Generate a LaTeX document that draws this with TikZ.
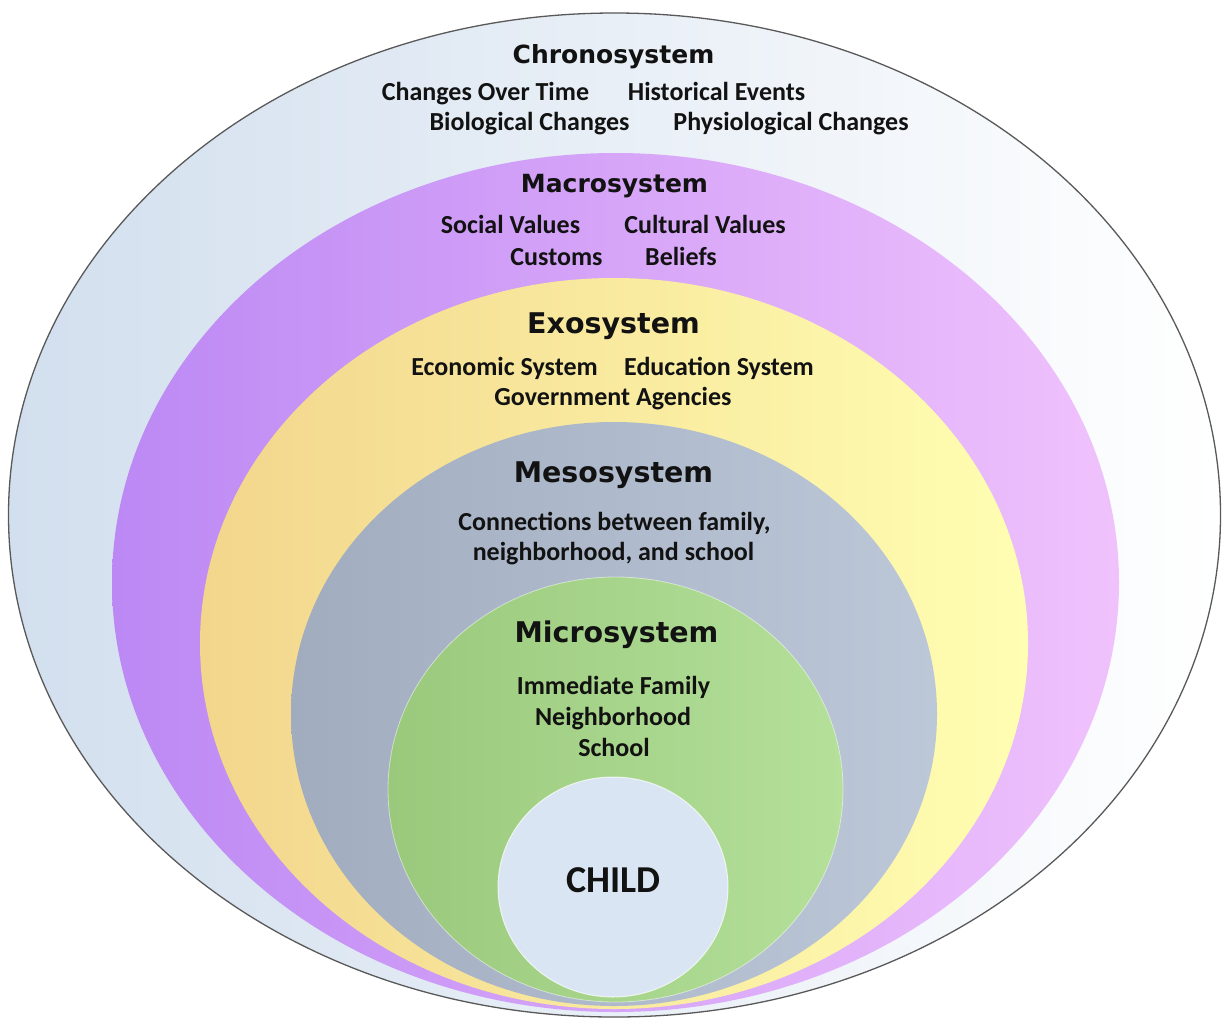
\documentclass[tikz,border=0pt]{standalone}
\usepackage{fontspec}
\setmainfont{Carlito}
\newfontfamily\headfont{DejaVu Sans}
\usetikzlibrary{shapes.geometric}
\definecolor{txt}{HTML}{121212}
\definecolor{chronoL}{HTML}{D2DFEE}
\definecolor{chronoM}{HTML}{DDE7F2}
\definecolor{chronoR}{HTML}{FFFFFF}
\definecolor{macroL}{HTML}{BC88F4}
\definecolor{macroM}{HTML}{C896F6}
\definecolor{macroR}{HTML}{F0C2FC}
\definecolor{exoL}{HTML}{F2D68C}
\definecolor{exoM}{HTML}{F8DE98}
\definecolor{exoR}{HTML}{FFFEB2}
\definecolor{mesoL}{HTML}{A1ADBF}
\definecolor{mesoM}{HTML}{ACB7C9}
\definecolor{mesoR}{HTML}{BCC7D8}
\definecolor{microL}{HTML}{9AC97C}
\definecolor{microM}{HTML}{A4D388}
\definecolor{microR}{HTML}{B4E09A}
\definecolor{childC}{HTML}{D9E5F2}
\tikzset{
  ring/.style={ellipse, inner sep=0pt, outer sep=0pt},
  head/.style={font=\headfont\bfseries\fontsize{25}{25}\selectfont, text=txt,
    inner sep=0pt, text height=0.73em, text depth=0pt},
  bighead/.style={head, font=\headfont\bfseries\fontsize{28.5}{28.5}\selectfont},
  item/.style={font=\bfseries\fontsize{26}{26}\selectfont, text=txt,
    inner sep=0pt, text height=0.644em, text depth=0pt},
}
\begin{document}
\begin{tikzpicture}[x=1pt,y=-1pt]
\useasboundingbox (0,0) rectangle (1225,1021);
\fill[white] (0,0) rectangle (1225,1021);
% rings
\node[ring, minimum width=1212pt, minimum height=1004pt, left color=chronoL, middle color=chronoM, right color=chronoR,
  draw=black!65, line width=1.3pt] (chrono) at (614.5,515) {};
\node[ring, minimum width=1007pt, minimum height=859pt, left color=macroL, middle color=macroM, right color=macroR] (macro) at (615.5,582.5) {};
\node[ring, minimum width=828pt, minimum height=731pt, left color=exoL, middle color=exoM, right color=exoR] (exo) at (614,643.5) {};
\node[ring, minimum width=646pt, minimum height=584pt, left color=mesoL, middle color=mesoM, right color=mesoR] (meso) at (614,714) {};
\node[ring, minimum width=455pt, minimum height=425pt, left color=microL, middle color=microM, right color=microR,
  draw=white, draw opacity=0.5, line width=0.8pt] (micro) at (615.5,789.5) {};
\node[ring, minimum width=230pt, minimum height=220pt, fill=childC,
  draw=white, draw opacity=0.7, line width=1pt] (child) at (613,887) {};
% Chronosystem
\node[head] (hchrono) at (613.5,60) {Chronosystem};
\node[item] (c1) at (485.5,97) {Changes Over Time};
\node[item] (c2) at (716.5,97) {Historical Events};
\node[item] (c3) at (529.5,127) {Biological Changes};
\node[item] (c4) at (791,127) {Physiological Changes};
% Macrosystem
\node[head] (hmacro) at (614.5,189) {Macrosystem};
\node[item] (m1) at (510.5,230) {Social Values};
\node[item] (m2) at (705,230) {Cultural Values};
\node[item] (m3) at (556.5,262) {Customs};
\node[item] (m4) at (681,262) {Beliefs};
% Exosystem
\node[bighead] (hexo) at (613.5,330) {Exosystem};
\node[item] (e1) at (504.5,372) {Economic System};
\node[item] (e2) at (719,372) {Education System};
\node[item] (e3) at (613,402) {Government Agencies};
% Mesosystem
\node[bighead] (hmeso) at (613.5,479) {Mesosystem};
\node[item] (s1) at (614.5,527) {Connections between family,};
\node[item] (s2) at (613.5,557) {neighborhood, and school};
% Microsystem
\node[bighead] (hmicro) at (616.5,639) {Microsystem};
\node[item] (i1) at (613.5,691) {Immediate Family};
\node[item] (i2) at (613,722) {Neighborhood};
\node[item] (i3) at (614,753) {School};
% Child
\node[item, font=\bfseries\fontsize{38}{38}\selectfont] (tchild) at (613.5,889) {CHILD};
\end{tikzpicture}
\end{document}
